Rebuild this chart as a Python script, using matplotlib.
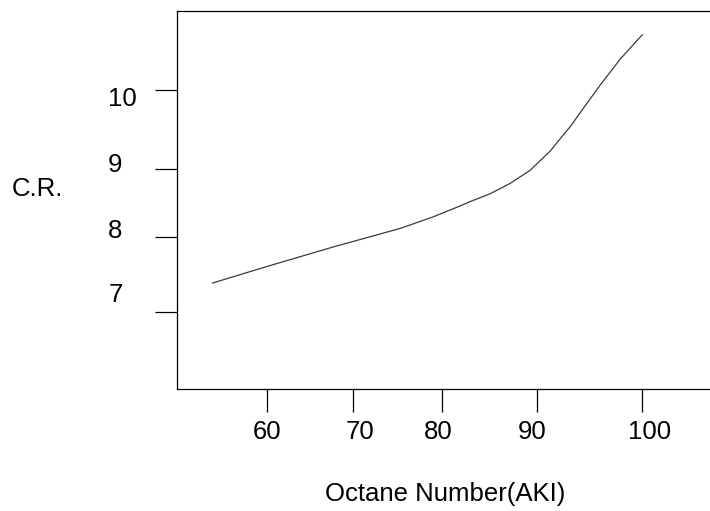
import numpy as np
import matplotlib
matplotlib.use('Agg')
import matplotlib.pyplot as plt
from matplotlib.transforms import ScaledTranslation

plt.rcParams['font.family'] = ['Liberation Sans', 'DejaVu Sans']

# curve
octane = [53.7, 60.0, 67.7, 75.3, 79.0, 81.9, 82.9, 85.1, 87.2, 89.3,
          91.3, 92.2, 93.2, 94.1, 96.0, 97.9, 100.0]
cr = [7.39, 7.61, 7.87, 8.13, 8.30, 8.46, 8.52, 8.64, 8.79, 8.98,
      9.23, 9.38, 9.54, 9.71, 10.06, 10.39, 10.70]

x_ticks = [60, 70, 80, 90, 100]
y_ticks = [7, 8, 9, 10]

# the original axes are not evenly spaced -> pixel spot of every tick
x_tick_px = [266.7, 352.7, 442.3, 536.7, 642.3]
y_tick_px = [312.3, 237.3, 169.0, 90.0]
y_neg = [-p for p in y_tick_px]


def piecewise(v, xp, fp):
    # linear between the breakpoints, straight extension outside
    v = np.asarray(v, dtype=float)
    out = np.interp(v, xp, fp)
    lo = (fp[1] - fp[0]) / (xp[1] - xp[0])
    hi = (fp[-1] - fp[-2]) / (xp[-1] - xp[-2])
    out = np.where(v < xp[0], fp[0] + (v - xp[0]) * lo, out)
    out = np.where(v > xp[-1], fp[-1] + (v - xp[-1]) * hi, out)
    return out


fx = lambda v: piecewise(v, x_ticks, x_tick_px)
fx_inv = lambda p: piecewise(p, x_tick_px, x_ticks)
fy = lambda v: piecewise(v, y_ticks, y_neg)
fy_inv = lambda p: piecewise(p, y_neg, y_ticks)

W, H = 710, 511
fig = plt.figure(figsize=(W / 100, H / 100), dpi=100)
L, R, T, B = 177.3, 730, 10.7, 388.7   # axes box in pixels (right side runs off)
ax = fig.add_axes([L / W, 1 - B / H, (R - L) / W, (B - T) / H])
ax.set_xscale('function', functions=(fx, fx_inv))
ax.set_yscale('function', functions=(fy, fy_inv))

ax.plot(octane, cr, color='#3a3a3a', lw=0.9, solid_joinstyle='round')

ax.set_xlim(float(fx_inv(L)), float(fx_inv(R)))
ax.set_ylim(float(fy_inv(-B)), float(fy_inv(-T)))

ax.set_xticks(x_ticks, [str(t) for t in x_ticks])
ax.set_yticks(y_ticks, [str(t) for t in y_ticks])
ax.minorticks_off()
ax.tick_params(axis='x', length=16.5, width=0.9, pad=5.8, labelsize=18.5)
ax.tick_params(axis='y', length=15.8, width=0.9, pad=34, labelsize=18.5)
for s in ax.spines.values():
    s.set_linewidth(0.9)

# labels sit a bit off their ticks in the original
x_shift = [0, 7, -4, -4.5, 7]
y_shift = [-20.3, -9.3, -6.2, 6.7]
for lab, dx in zip(ax.get_xticklabels(), x_shift):
    lab.set_transform(lab.get_transform() + ScaledTranslation(dx / 100, 0, fig.dpi_scale_trans))
for lab, dy in zip(ax.get_yticklabels(), y_shift):
    lab.set_ha('left')
    lab.set_transform(lab.get_transform() + ScaledTranslation(0, -dy / 100, fig.dpi_scale_trans))

ax.set_xlabel('Octane Number(AKI)', fontsize=18.5, va='baseline')
ax.xaxis.set_label_coords(0.4843, -0.2971)
ax.set_ylabel('C.R.', rotation=0, fontsize=18.5, ha='center', va='center')
ax.yaxis.set_label_coords(-0.2526, 0.5283)

fig.savefig('out.png', dpi=100)
